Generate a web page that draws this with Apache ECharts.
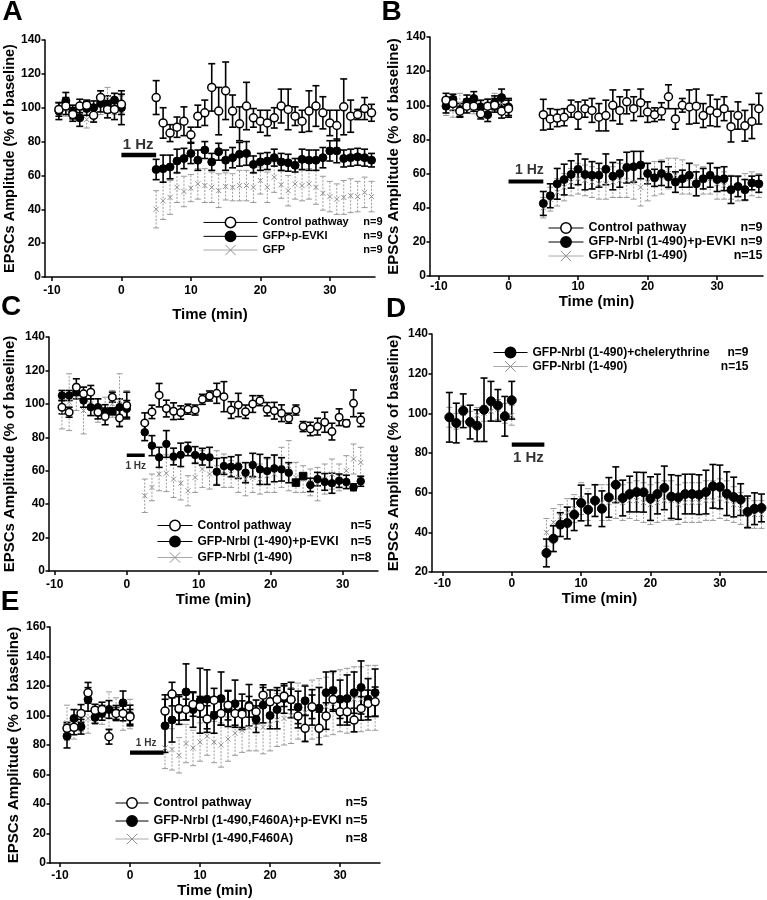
<!DOCTYPE html>
<html>
<head>
<meta charset="utf-8">
<script src="https://cdn.jsdelivr.net/npm/echarts@6/dist/echarts.min.js"></script>
<style>html,body{margin:0;padding:0;background:#fff}#c{width:767px;height:900px}</style>
</head>
<body>
<div id="c"></div>
<script>
// ---------- time points (min) ----------
const T_BASE = [-9,-8,-7,-6,-5,-4,-3,-2,-1,0];
const T_POST_36 = [5,6,7,8,9,10,11,12,13,14,15,16,17,18,19,20,21,22,23,24,25,26,27,28,29,30,31,32,33,34,35,36];
const T_POST_C = [2.5,3.5,4.5,5.5,6.5,7.5,8.5,9.5,10.5,11.5,12.5,13.5,14.5,15.5,16.5,17.5,18.5,19.5,20.5,21.5,22.5,23.5,24.5,25.5,26.5,27.5,28.5,29.5,30.5,31.5,32.5];
const T_POST_E = [5,6,7,8,9,10,11,12,13,14,15,16,17,18,19,20,21,22,23,24,25,26,27,28,29,30,31,32,33,34,35];
const X_TICKS = [-10,0,10,20,30];

// ---------- Panel A ----------
const A_ctrl_base = [99,101,96,101,101.5,95.5,106,99,99,102];
const A_ctrl_base_err = [4,5,4,4,3,4,4,5,6,6];
const A_ctrl_post = [106,91,85,88.5,92,84,95,97,112,98,110,98,90.5,101,94,92,91,94,101,99,95,92,98,101,97,91,89.5,100.5,95,96,99.5,97];
const A_ctrl_post_err = [10,9,5,6,8.5,4.5,6.5,7.5,14,14,17,9.5,10,14,5.5,6.5,7.5,6,10,12,5.5,6.5,12,12,9.5,7.5,9,16.5,9.5,3,6.5,5];
const A_black_base = [98,104,97.5,94,99.5,100,102.5,102,104.5,100];
const A_black_base_err = [5,5,4,5,4,4,5,5,4,10];
const A_black_post = [63.5,64,65,68.5,70,73,69,75,68,74,69,70.5,72.5,73,66.5,68,68.5,70.5,68,67.5,66,69.5,69,69,70.5,74.5,74.5,70,70.5,71,70.5,69];
const A_black_post_err = [6,8,7,7,6,6,6,5,5,5,6,6,7,7,5,5,5,5,5,5,4,6,6,6,6,6,7,5,5,5,5,4];
const A_gray_base = [98,99,97,99,93,97,103,106,101,102];
const A_gray_base_err = [5,4,4,4,5,5,7,6,5,5];
const A_gray_post = [40,45,47,53,50.5,52.5,55,54,53,51,53.5,53,54,54,53,57,53,59,54.5,51,55,54,55,53,49.5,47.5,46,47,48,47.5,50,47.5];
const A_gray_post_err = [11,11,10,9,9,8,9,10,9,10,8,8,9,9,9,8,9,9,8,9,9,9,9,10,10,9,9,10,10,9,9,9];
const A_names = ['Control pathway','GFP+p-EVKI','GFP'];
const A_n = ['n=9','n=9','n=9'];

// ---------- Panel B ----------
const B_ctrl_base = [103,101,96.5,99.5,99.5,95,99.5,100,96.5,98];
const B_ctrl_base_err = [4,4,3,4,3,3,4,4,4,5];
const B_ctrl_post = [94.5,92,92.5,93,98,94,98,97,93,94,100,97,102,98,101.5,96,94.5,96.5,105,92,100,99,99.5,94,97,95.5,98,87.5,94,88,90.5,98];
const B_ctrl_post_err = [9,6,5,5,5,8,5,7,8,9,9,8,7,7,8,6,4,5,7,6,4,10,10,7,9,8,7,9,8,9,10,9];
const B_black_base = [99.5,103.5,97,102,104,99,94.5,101.5,104.5,99];
const B_black_base_err = [4,3,4,4,4,4,4,4,5,5];
const B_black_post = [42.5,47,54,56.5,59.5,62.5,59.5,59,59,62.5,58.5,60,63.5,64,65,60,57.5,60,58,55,57,59,54,57,59,56.5,57,50.5,52.5,50.5,54.5,54];
const B_black_post_err = [7,7,9,9,8,9,9,8,7,9,8,8,9,9,8,6,5,7,6,6,5,7,7,6,7,7,7,8,6,6,4,5];
const B_gray_base = [99,98,101,100,99,98,99,102,101,99];
const B_gray_base_err = [5,5,6,4,4,4,5,5,5,5];
const B_gray_post = [40,45,49,52,55,57,56,55,54,54,55,56,56,55,52,55,57,58,60,59,58,57,56,56,57,54,53,52,51,52,54,53];
const B_gray_post_err = [6,7,8,8,8,9,9,9,9,9,9,10,10,10,11,11,10,10,9,10,10,9,9,8,9,9,8,7,7,8,7,7];
const B_names = ['Control pathway','GFP-Nrbl (1-490)+p-EVKI','GFP-Nrbl (1-490)'];
const B_n = ['n=9','n=9','n=15'];

// ---------- Panel C ----------
const C_ctrl_base = [98,95,110,106,107,95,92.5,104,91.5,99];
const C_ctrl_base_err = [4,3,5,4,4,4,5,3,5,8];
const C_ctrl_post = [88.6,95.2,105.2,97.2,95.6,94.8,96.8,96.3,102.7,104.7,106.3,104.3,96.3,99.3,95.3,99.9,101.9,96.8,95.9,94.4,91.4,96.3,86.4,85,86.4,89,83.4,92,88.4,100.3,90.4];
const C_ctrl_post_err = [6,4,7,5,5,4,3,3,3,3,6,9,5,7,4,5,3,4,5,5,3,3,3,4,5,6,5,5,2,8,4];
const C_black_base = [105,105,107,102,98,98,95.5,95.5,98,97];
const C_black_base_err = [3,3,4,4,5,5,4,0,5,5];
const C_black_post = [83,75,68,76,68.5,69.5,73,69.4,68.4,68,59.4,62.8,62.4,62.4,58.8,63.4,60.8,59.8,61.4,60.8,58.8,52.9,56.8,51.5,55,53.3,52.5,54,53.3,50.1,53.7];
const C_black_post_err = [5,6,6,8,5,7,4,5,5,6,8,5,6,7,6,7,9,8,8,7,6,0,0,4,4,5,6,4,4,2,3];
const C_gray_base = [95,101,104,96,100,96,97,100,102,100];
const C_gray_base_err = [10,17,8,14,7,7,7,8,16,8];
const C_gray_post = [45,50,58,58.5,55,52.5,48,56,61,58,62,60,58,56,55,56,55,57,58,62,63,56,55,53,52,55,58,56,60,67,65];
const C_gray_post_err = [10,8,10,11,11,10,9,9,11,9,10,10,8,9,10,9,9,10,11,12,15,9,8,8,10,9,9,8,9,9,9];
const C_names = ['Control pathway','GFP-Nrbl (1-490)+p-EVKI','GFP-Nrbl (1-490)'];
const C_n = ['n=5','n=5','n=8'];

// ---------- Panel D ----------
const D_black_base = [98,95.1,101.3,95.6,93.8,101.8,106.1,104,98.5,106.6];
const D_black_base_err = [12.5,10,8.5,8.5,8,16,10,8,10,9.5];
const D_black_post = [29.6,36.8,43.9,44.7,48.9,54.8,51.4,56,51.9,57.6,64,57.3,59.3,60.3,60.2,57,59.3,62.4,58,57.6,59.3,59.3,59,60.3,63.2,62.9,59.5,57.8,56.5,50.3,51.9,52.3];
const D_black_post_err = [7,6.5,6,8,8,9,8,8,9,10,9,9,9,10,10,11,10,11,11,11,10,10,10,11,11,11,11,10,8,8,8,7];
const D_gray_base = [98,96,100,97,99,100,101,102,100,99];
const D_gray_base_err = [5,4,4,4,4,4,5,5,5,5];
const D_gray_post = [40,45,48,50,52,57,54,56,55,55,56,55,56,56,55,54,55,56,56,54,55,55,55,56,56,57,56,54,52,50,49,49];
const D_gray_post_err = [7,7,6,7,7,8,8,8,9,9,9,9,9,10,10,10,10,10,10,10,10,10,10,10,10,10,10,9,8,7,7,7];
const D_names = ['GFP-Nrbl (1-490)+chelerythrine','GFP-Nrbl (1-490)'];
const D_n = ['n=9','n=15'];

// ---------- Panel E ----------
const E_ctrl_base = [91.3,92,101.4,115.4,103.6,104,85.6,101.4,101.4,99.1];
const E_ctrl_base_err = [4,5,6,7,4,5,5,4,5,5];
const E_ctrl_post = [103,114.5,104.8,104.1,107.5,105.9,97.6,110.4,101.4,107,101.4,100.9,105.9,102.5,113.8,109.3,110.9,113.1,110.9,99.6,91.3,105.9,91.3,99.6,110.9,102.5,102.5,96.9,104.8,108.2,109.3];
const E_ctrl_post_err = [11,8,8,7,8,7,9,8,8,10,8,9,7,8,7,8,8,7,7,8,9,8,11,9,8,9,9,8,8,9,10];
const E_black_base = [86,98,92.4,110.9,98.7,101.8,104.1,101.8,108.6,100];
const E_black_base_err = [8,6,5,8,4,5,6,5,8,7];
const E_black_post = [93,97,104,116,104,110,111,100,111.5,104.5,108,102.5,107,97.5,107,100,104,111.5,110.5,105.5,110,105.5,105,115.5,117,111,111.5,115.5,119,111,115.5];
const E_black_post_err = [18,15,10,19,12,22,20,12,18,12,16,12,14,9,12,9,13,10,12,11,10,12,14,14,13,13,16,14,18,14,16];
const E_gray_base = [95,92,95,98,100,100,103,104,100,101];
const E_gray_base_err = [12,8,6,10,6,6,13,8,10,10];
const E_gray_post = [78,77,73,81,78,82,86,82,80,84,88,90,92,93,92,94,97,98,100,103,102,104,105,106,108,110,110,111,111,112,112];
const E_gray_post_err = [14,14,12,13,12,13,13,14,15,15,15,15,16,17,18,18,18,18,19,19,19,20,20,20,21,21,22,22,22,22,22];
const E_names = ['Control pathway','GFP-Nrbl (1-490,F460A)+p-EVKI','GFP-Nrbl (1-490,F460A)'];
const E_n = ['n=5','n=5','n=8'];

// ---------- 1 Hz stimulation bars ----------
const HZ_START = [0,0,0,0,0];
const HZ_END = [5,5,2.5,4.7,4.8];
const HZ_LEVEL = [72,55.3,69.3,84.2,74.8];
const HZ_TEXT_X = [2.4,3,1.25,2.4,2.3];
const HZ_TEXT = '1 Hz';
const PANEL_LETTERS = ['A','B','C','D','E'];
const Y_NAME = 'EPSCs Amplitude (% of baseline)';
const X_NAME = 'Time (min)';

// ---------- layout (styles / positions) ----------
const FONT = "'Liberation Sans', Arial, Helvetica, sans-serif";
const X_PATH = 'path://M0,0L10,10M10,0L0,10';

const layout = [
  {grid:{left:45,top:40,width:330,height:237}, x:[-11,36.5], y:[0,140,20], xNameGap:30, xLabelMargin:8, yNameGap:26, yNameSize:14.5,
   legend:{left:198,top:211.5,itemWidth:54,itemGap:2,fs:11,aw:96,bw:24}, letter:[12.5,12], size:8,
   hz:{width:4.5,pos:'top',dist:3,fs:15}},
  {grid:{left:430,top:37,width:333,height:239}, x:[-11.3,36.6], y:[0,140,20], xNameGap:16, xLabelMargin:5, yNameGap:29, yNameSize:15,
   legend:{left:543,top:216.5,itemWidth:35,itemGap:1,fs:12.5,aw:144,bw:30}, letter:[391.5,12.5], size:8,
   hz:{width:4,pos:'top',dist:4,fs:14}},
  {grid:{left:49,top:337,width:329,height:234}, x:[-10.8,34.9], y:[0,140,20], xNameGap:16, xLabelMargin:8, yNameGap:32, yNameSize:15,
   legend:{left:152,top:514.5,itemWidth:35,itemGap:4,fs:12,aw:148,bw:26}, letter:[11,307.5], size:7.5,
   hz:{width:3.5,pos:'bottom',dist:6,fs:10}},
  {grid:{left:432,top:334,width:335,height:238}, x:[-11.5,36.8], y:[20,140,20], xNameGap:16, xLabelMargin:6, yNameGap:31, yNameSize:15,
   legend:{left:488,top:341.5,itemWidth:34,itemGap:2,fs:12,aw:186,bw:30}, letter:[396,309], size:9,
   hz:{width:4.3,pos:'bottom',dist:6,fs:15}},
  {grid:{left:50,top:627,width:330,height:236}, x:[-11.43,35.7], y:[0,160,20], xNameGap:17, xLabelMargin:7, yNameGap:29, yNameSize:15,
   legend:{left:110,top:791.5,itemWidth:33,itemGap:5,fs:12.5,aw:188,bw:26}, letter:[10,602.5], size:8,
   hz:{width:4.3,pos:'top',dist:4,fs:10}}
];

const panelSeries = [
  [ {kind:'gray', name:A_names[2], t:T_BASE.concat(T_POST_36), m:A_gray_base.concat(A_gray_post), e:A_gray_base_err.concat(A_gray_post_err)},
    {kind:'black', name:A_names[1], t:T_BASE.concat(T_POST_36), m:A_black_base.concat(A_black_post), e:A_black_base_err.concat(A_black_post_err)},
    {kind:'ctrl', name:A_names[0], t:T_BASE.concat(T_POST_36), m:A_ctrl_base.concat(A_ctrl_post), e:A_ctrl_base_err.concat(A_ctrl_post_err)} ],
  [ {kind:'gray', name:B_names[2], t:T_BASE.concat(T_POST_36), m:B_gray_base.concat(B_gray_post), e:B_gray_base_err.concat(B_gray_post_err)},
    {kind:'black', name:B_names[1], t:T_BASE.concat(T_POST_36), m:B_black_base.concat(B_black_post), e:B_black_base_err.concat(B_black_post_err)},
    {kind:'ctrl', name:B_names[0], t:T_BASE.concat(T_POST_36), m:B_ctrl_base.concat(B_ctrl_post), e:B_ctrl_base_err.concat(B_ctrl_post_err)} ],
  [ {kind:'gray', name:C_names[2], t:T_BASE.concat(T_POST_C), m:C_gray_base.concat(C_gray_post), e:C_gray_base_err.concat(C_gray_post_err)},
    {kind:'black', name:C_names[1], t:T_BASE.concat(T_POST_C), m:C_black_base.concat(C_black_post), e:C_black_base_err.concat(C_black_post_err), squares:[7,31,32]},
    {kind:'ctrl', name:C_names[0], t:T_BASE.concat(T_POST_C), m:C_ctrl_base.concat(C_ctrl_post), e:C_ctrl_base_err.concat(C_ctrl_post_err)} ],
  [ {kind:'gray', name:D_names[1], t:T_BASE.concat(T_POST_36), m:D_gray_base.concat(D_gray_post), e:D_gray_base_err.concat(D_gray_post_err)},
    {kind:'black', name:D_names[0], t:T_BASE.concat(T_POST_36), m:D_black_base.concat(D_black_post), e:D_black_base_err.concat(D_black_post_err)} ],
  [ {kind:'gray', name:E_names[2], t:T_BASE.concat(T_POST_E), m:E_gray_base.concat(E_gray_post), e:E_gray_base_err.concat(E_gray_post_err)},
    {kind:'black', name:E_names[1], t:T_BASE.concat(T_POST_E), m:E_black_base.concat(E_black_post), e:E_black_base_err.concat(E_black_post_err)},
    {kind:'ctrl', name:E_names[0], t:T_BASE.concat(T_POST_E), m:E_ctrl_base.concat(E_ctrl_post), e:E_ctrl_base_err.concat(E_ctrl_post_err)} ]
];
const legendNames = [A_names, B_names, C_names, D_names, E_names];
const legendN = [A_n, B_n, C_n, D_n, E_n];

function errRenderer(kind, cap) {
  return function (params, api) {
    const x = api.value(0);
    const lo = api.coord([x, api.value(1)]);
    const hi = api.coord([x, api.value(2)]);
    const h = cap / 2;
    const vs = kind === 'gray' ? {stroke:'#9a9a9a', lineWidth:1, lineDash:[2,1.5]} : {stroke:'#000', lineWidth:1.6};
    const cs = kind === 'gray' ? {stroke:'#9a9a9a', lineWidth:1} : {stroke:'#000', lineWidth:1.6};
    return {type:'group', children:[
      {type:'line', shape:{x1:lo[0], y1:lo[1], x2:hi[0], y2:hi[1]}, style:vs},
      {type:'line', shape:{x1:hi[0]-h, y1:hi[1], x2:hi[0]+h, y2:hi[1]}, style:cs},
      {type:'line', shape:{x1:lo[0]-h, y1:lo[1], x2:lo[0]+h, y2:lo[1]}, style:cs}
    ]};
  };
}

const styleOf = {
  ctrl: {symbol:'circle', itemStyle:{color:'#fff', borderColor:'#000', borderWidth:1.5}},
  black:{symbol:'circle', itemStyle:{color:'#000', borderColor:'#000', borderWidth:1}},
  gray: {symbol:X_PATH, itemStyle:{color:'rgba(0,0,0,0)', borderColor:'#8f8f8f', borderWidth:1}}
};

const grids = [], xAxes = [], yAxes = [], legends = [], series = [], graphics = [];
const boldTxt = {color:'#000', fontFamily:FONT, fontWeight:'bold'};

layout.forEach((L, p) => {
  grids.push(Object.assign({containLabel:false}, L.grid));
  xAxes.push({
    type:'value', gridIndex:p, min:L.x[0], max:L.x[1],
    name:X_NAME, nameLocation:'middle', nameGap:L.xNameGap,
    nameTextStyle:Object.assign({fontSize:15}, boldTxt),
    axisLine:{show:true, onZero:false, lineStyle:{color:'#000', width:1.5}},
    axisTick:{show:true, length:4, customValues:X_TICKS, lineStyle:{color:'#000', width:1.5}},
    axisLabel:Object.assign({customValues:X_TICKS, fontSize:12, margin:L.xLabelMargin}, boldTxt),
    splitLine:{show:false}
  });
  yAxes.push({
    type:'value', gridIndex:p, min:L.y[0], max:L.y[1], interval:L.y[2],
    name:Y_NAME, nameLocation:'middle', nameGap:L.yNameGap,
    nameTextStyle:Object.assign({fontSize:L.yNameSize}, boldTxt),
    axisLine:{show:true, onZero:false, lineStyle:{color:'#000', width:1.5}},
    axisTick:{show:true, length:3.5, lineStyle:{color:'#000', width:1.5}},
    axisLabel:Object.assign({fontSize:12, margin:4}, boldTxt),
    splitLine:{show:false}
  });

  // error bars first, then markers, in order gray -> black -> control
  panelSeries[p].forEach(S => {
    const bars = [];
    S.t.forEach((t, i) => { if (S.e[i] > 0) bars.push([t, S.m[i] - S.e[i], S.m[i] + S.e[i]]); });
    series.push({
      type:'custom', name:S.name + ' SEM ' + p, xAxisIndex:p, yAxisIndex:p,
      renderItem:errRenderer(S.kind, S.kind === 'gray' ? 6 : 7),
      encode:{x:0, y:[1,2]}, data:bars, silent:true, z:2
    });
    const st = styleOf[S.kind];
    const pts = S.t.map((t, i) => {
      if (S.squares && S.squares.indexOf(i) >= 0) return {value:[t, S.m[i]], symbol:'rect'};
      return [t, S.m[i]];
    });
    series.push({
      type:'line', name:S.name, xAxisIndex:p, yAxisIndex:p, data:pts,
      symbol:st.symbol, symbolSize:S.kind === 'gray' ? 5 : L.size, showSymbol:true,
      lineStyle:{opacity:0, width:1}, itemStyle:st.itemStyle,
      emphasis:{disabled:true}, silent:true, z:3
    });
  });

  // 1 Hz bar
  series.push({
    type:'line', name:'stim' + p, xAxisIndex:p, yAxisIndex:p,
    data:[[HZ_START[p], HZ_LEVEL[p]], [HZ_END[p], HZ_LEVEL[p]]],
    symbol:'none', lineStyle:{color:'#000', width:L.hz.width, cap:'butt'}, silent:true, z:4
  });
  series.push({
    type:'scatter', name:'stimtext' + p, xAxisIndex:p, yAxisIndex:p,
    data:[[HZ_TEXT_X[p], HZ_LEVEL[p]]], symbolSize:0, silent:true, z:4,
    label:Object.assign({show:true, position:L.hz.pos, distance:L.hz.dist, formatter:HZ_TEXT, fontSize:L.hz.fs}, boldTxt)
  });

  // legend
  const names = legendNames[p], ns = legendN[p];
  legends.push({
    orient:'vertical', left:L.legend.left, top:L.legend.top,
    itemWidth:L.legend.itemWidth, itemHeight:13, itemGap:L.legend.itemGap,
    selectedMode:false,
    data:names.map(n => {
      const k = panelSeries[p].find(S => S.name === n).kind;
      return k === 'gray' ? {name:n, lineStyle:{color:'#a8a8a8'}, itemStyle:{borderWidth:1}} : {name:n};
    }),
    formatter:function (name) { return '{a|' + name + '}{b|' + ns[names.indexOf(name)] + '}'; },
    lineStyle:{color:'#000', width:1, opacity:1, type:'solid'},
    itemStyle:{borderWidth:1.5},
    textStyle:Object.assign({fontSize:L.legend.fs, rich:{
      a:Object.assign({width:L.legend.aw, fontSize:L.legend.fs, lineHeight:13}, boldTxt),
      b:Object.assign({width:L.legend.bw, align:'right', fontSize:L.legend.fs, lineHeight:13}, boldTxt)
    }}, boldTxt)
  });

  graphics.push({
    type:'text', x:L.letter[0], y:L.letter[1], silent:true,
    style:{text:PANEL_LETTERS[p], fill:'#000', font:'bold 28px ' + FONT, align:'center', verticalAlign:'middle'}
  });
});

const chart = echarts.init(document.getElementById('c'), null, {renderer:'canvas'});
chart.setOption({
  animation:false,
  backgroundColor:'#fff',
  grid:grids, xAxis:xAxes, yAxis:yAxes, legend:legends, series:series, graphic:graphics,
  tooltip:{show:false}
});
</script>
</body>
</html>
